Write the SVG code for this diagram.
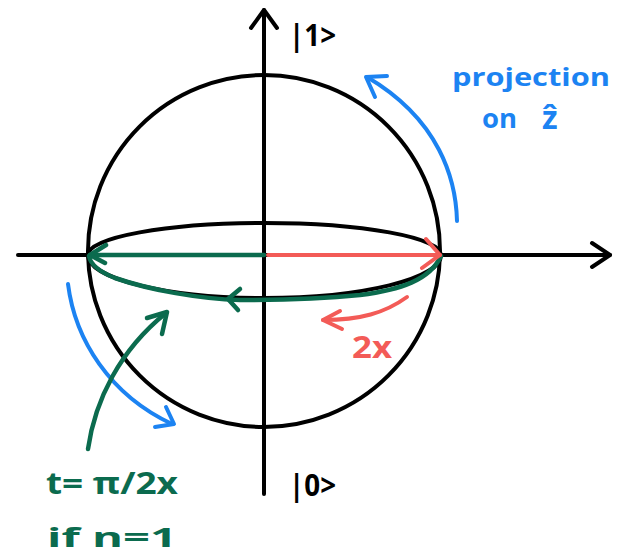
<svg xmlns="http://www.w3.org/2000/svg" width="627" height="560" viewBox="0 0 627 560">
<style>
.k{fill:none;stroke:#000;stroke-width:4;stroke-linecap:round;stroke-linejoin:round}
.b{fill:none;stroke:#1c83f2;stroke-width:4;stroke-linecap:round;stroke-linejoin:round}
.g{fill:none;stroke:#0b6b4e;stroke-width:4.5;stroke-linecap:round;stroke-linejoin:round}
.r{fill:none;stroke:#f35b57;stroke-width:4;stroke-linecap:round;stroke-linejoin:round}
text{font-family:"Open Sans","DejaVu Sans",sans-serif;font-weight:700}
.tb{fill:#1c83f2}.tg{fill:#0b6b4e}.tr{fill:#f35b57}.tk{fill:#000}
</style>
<rect width="627" height="560" fill="#fff"/>
<g id="sphere">
<circle class="k" cx="264" cy="251" r="176"/>
<path class="k" d="M88,255 A176.5,32 0 0 1 441,255 A176.5,43 0 0 1 88,255"/>
</g>
<g id="axes">
<path class="k" d="M264,10 L264,494"/>
<path class="k" d="M251,28 L264,10 L277,28"/>
<path class="k" d="M18,255 L610,255"/>
<path class="k" d="M592,243 L610,255 L592,267"/>
</g>
<g id="connectors">
<path class="g" d="M264,255 L90,255"/>
<path class="g" d="M106,245 L90,255 L105,263"/>
<path class="g" d="M441,256 C430,280 400,290 360,295 C320,299 270,300 240,300 C200,299 150,290 115,278 C95,270 90,262 89,256"/>
<path class="g" d="M240,289 L228,299 L238,310"/>
<path class="r" d="M268,255 L440,255"/>
<path class="r" d="M426,239 L440,255 L422,268"/>
<path class="r" d="M407,297 C385,313 360,320 323,320"/>
<path class="r" d="M340,311 L323,320 L342,329"/>
<path class="b" d="M457,221 C456,180 440,120 367,77"/>
<path class="b" d="M387,76 L366,77 L375,97"/>
<path class="b" d="M68,284 C75,340 110,395 172,424"/>
<path class="b" d="M166,407 L174,424 L155,427"/>
<path class="g" d="M88,449 C95,400 120,350 166,313"/>
<path class="g" d="M147,318 L167,312 L162,334"/>
</g>
<g id="labels">
<text class="tk" x="289" y="46" font-size="31" textLength="47" lengthAdjust="spacingAndGlyphs">|1&gt;</text>
<text class="tk" x="289" y="496" font-size="31" textLength="47" lengthAdjust="spacingAndGlyphs">|0&gt;</text>
<text class="tb" x="452" y="86" font-size="25" textLength="158" lengthAdjust="spacingAndGlyphs">projection</text>
<text class="tb" x="482" y="128" font-size="26" textLength="35" lengthAdjust="spacingAndGlyphs">on</text>
<text class="tb" x="542" y="129" font-size="32">ẑ</text>
<text class="tr" x="352" y="358" font-size="30" textLength="40" lengthAdjust="spacingAndGlyphs">2x</text>
<text class="tg" x="46" y="494" font-size="31" textLength="132" lengthAdjust="spacingAndGlyphs">t= π/2x</text>
<text class="tg" x="47" y="547" font-size="27" textLength="130" lengthAdjust="spacingAndGlyphs">if  n=1</text>
</g>
</svg>
